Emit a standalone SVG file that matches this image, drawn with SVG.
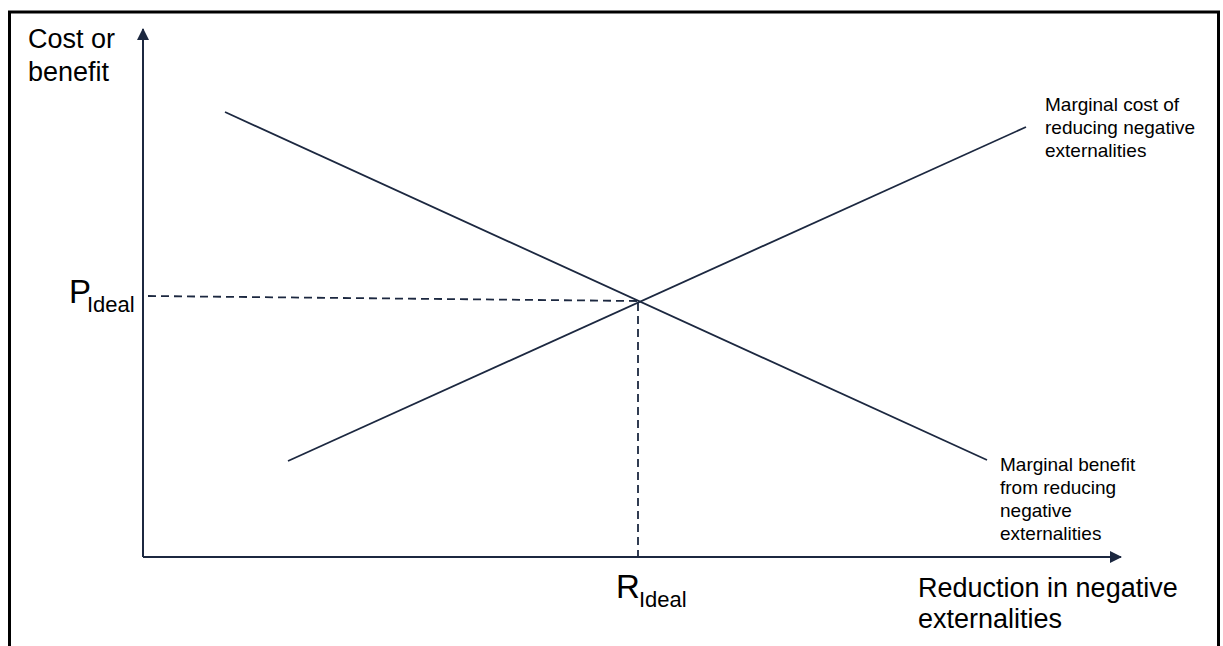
<svg xmlns="http://www.w3.org/2000/svg" width="1223" height="646" viewBox="0 0 1223 646">
<style>
.ax{stroke:#1c2840;stroke-width:2;fill:none}
.ln{stroke:#1c2840;stroke-width:1.8;fill:none}
.ds{stroke:#1c2840;stroke-width:1.8;fill:none;stroke-dasharray:8 5}
.big{font-family:"Liberation Sans",Arial,sans-serif;font-size:27px;fill:#000}
.sm{font-family:"Liberation Sans",Arial,sans-serif;font-size:19px;fill:#000}
.pl{font-family:"Liberation Sans",Arial,sans-serif;font-size:33px;fill:#000}
.sub{font-family:"Liberation Sans",Arial,sans-serif;font-size:22px;fill:#000}
</style>
<defs>
<marker id="ah" viewBox="0 0 12 12" refX="11" refY="6" markerWidth="12" markerHeight="12" markerUnits="userSpaceOnUse" orient="auto">
<path d="M0,0 L12,6 L0,12 Z" fill="#1c2840"/>
</marker>
</defs>
<rect x="0" y="0" width="1223" height="646" fill="#fff"/>
<rect x="9.5" y="12" width="1209" height="700" fill="none" stroke="#000" stroke-width="3"/>
<g id="connectors">
<line class="ax" x1="143" y1="557" x2="143" y2="29" marker-end="url(#ah)"/>
<line class="ax" x1="143" y1="557" x2="1121" y2="557" marker-end="url(#ah)"/>
<line class="ds" x1="148" y1="296" x2="637" y2="301"/>
<line class="ds" x1="638" y1="303" x2="638" y2="557"/>
</g>
<g id="mb-curve"><line class="ln" x1="225" y1="112" x2="987" y2="460"/></g>
<g id="mc-curve"><line class="ln" x1="288" y1="461" x2="1026" y2="127"/></g>
<g id="y-label"><text class="big" x="28" y="48">Cost or</text><text class="big" x="28" y="81">benefit</text></g>
<g id="x-label"><text class="big" x="918" y="597">Reduction in negative</text><text class="big" x="918" y="628">externalities</text></g>
<g id="p-ideal"><text class="pl" x="69" y="303">P</text><text class="sub" x="87" y="312">Ideal</text></g>
<g id="r-ideal"><text class="pl" x="616" y="598">R</text><text class="sub" x="639" y="607">Ideal</text></g>
<g id="mc-label"><text class="sm" x="1045" y="111">Marginal cost of</text><text class="sm" x="1045" y="134">reducing negative</text><text class="sm" x="1045" y="157">externalities</text></g>
<g id="mb-label"><text class="sm" x="1000" y="471">Marginal benefit</text><text class="sm" x="1000" y="494">from reducing</text><text class="sm" x="1000" y="517">negative</text><text class="sm" x="1000" y="540">externalities</text></g>
</svg>
